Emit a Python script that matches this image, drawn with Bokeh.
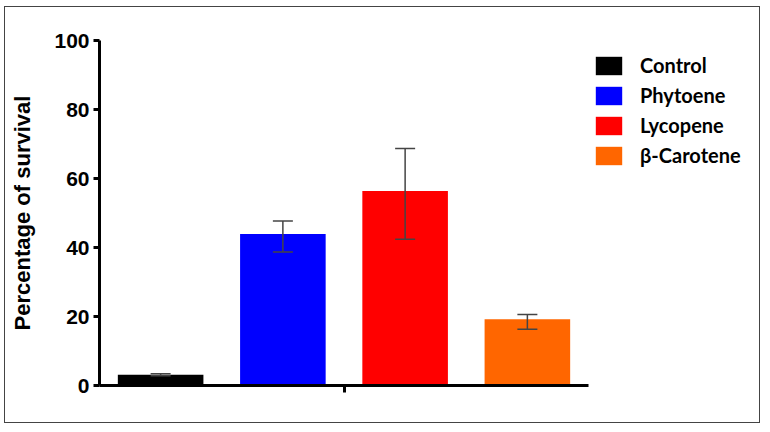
from bokeh.plotting import figure
from bokeh.models import ColumnDataSource, Whisker, Legend, LegendItem, FixedTicker, TeeHead, Range1d
from bokeh.embed import file_html
from bokeh.resources import INLINE

categories = ["Control", "Phytoene", "Lycopene", "β-Carotene"]
survival = [3.1, 43.9, 56.4, 19.2]
err_low = [2.8, 38.7, 42.4, 16.3]
err_high = [3.4, 47.7, 68.7, 20.6]
colors = ["#000000", "#0000FF", "#FF0000", "#FF6600"]
y_ticks = [0, 20, 40, 60, 80, 100]

xpos = [i + 1 for i in range(len(categories))]
src = ColumnDataSource(dict(x=xpos, top=survival, lower=err_low, upper=err_high,
                            color=colors, name=categories))

# frame spans the full width so the legend can sit inside it; axis line is bounded
FRAME_W = 650
AXIS_W = 489
x_end = 0.5 + len(categories) * FRAME_W / AXIS_W

p = figure(width=756, height=417, output_backend="svg", toolbar_location=None,
           x_range=Range1d(0.5, x_end), y_range=Range1d(0, 100),
           min_border_left=94, min_border_right=756 - 94 - FRAME_W,
           min_border_top=33, min_border_bottom=39)
p.styles = {"border": "1.5px solid #444", "margin-left": "4px", "margin-top": "6px"}
p.outline_line_color = None
p.xgrid.visible = False
p.ygrid.visible = False

items = []
for i, c in enumerate(categories):
    r = p.vbar(x=[xpos[i]], top=[survival[i]], width=0.70, fill_color=colors[i], line_color=None)
    items.append(LegendItem(label=c, renderers=[r]))

w = Whisker(source=src, base="x", lower="lower", upper="upper", level="overlay",
            line_color="#444444", line_width=1.5,
            upper_head=TeeHead(size=20, line_color="#444444", line_width=1.5),
            lower_head=TeeHead(size=20, line_color="#444444", line_width=1.5))
p.add_layout(w)

# y axis
ya = p.yaxis[0]
ya.ticker = FixedTicker(ticks=y_ticks)
ya.axis_line_width = 3
ya.axis_line_color = "black"
ya.major_tick_line_width = 3
ya.major_tick_out = 6
ya.major_tick_in = 0
ya.minor_tick_line_color = None
ya.major_label_text_font = "Liberation Sans"
ya.major_label_text_font_style = "bold"
ya.major_label_text_font_size = "21px"
ya.major_label_text_color = "black"
ya.major_label_standoff = 4
ya.axis_label = "Percentage of survival"
ya.axis_label_text_font = "Liberation Sans"
ya.axis_label_text_font_style = "bold"
ya.axis_label_text_font_size = "22px"
ya.axis_label_text_color = "black"
ya.axis_label_standoff = 16

# x axis
xa = p.xaxis[0]
xa.bounds = (0.5, 0.5 + len(categories))
xa.ticker = FixedTicker(ticks=[0.5 + len(categories) / 2])
xa.axis_line_width = 3
xa.axis_line_color = "black"
xa.major_tick_line_width = 3
xa.major_tick_out = 7
xa.major_tick_in = 0
xa.minor_tick_line_color = None
xa.major_label_overrides = {0.5 + len(categories) / 2: ""}

legend = Legend(items=items, location=(493, 218), glyph_width=33, glyph_height=23,
                spacing=6, padding=0, margin=0, label_standoff=15, label_height=23,
                label_text_font="Lato", label_text_font_style="bold",
                label_text_font_size="20px", label_text_color="black",
                border_line_color=None, background_fill_alpha=0)
p.add_layout(legend, "center")

open("out.html", "w").write(file_html(p, INLINE))
